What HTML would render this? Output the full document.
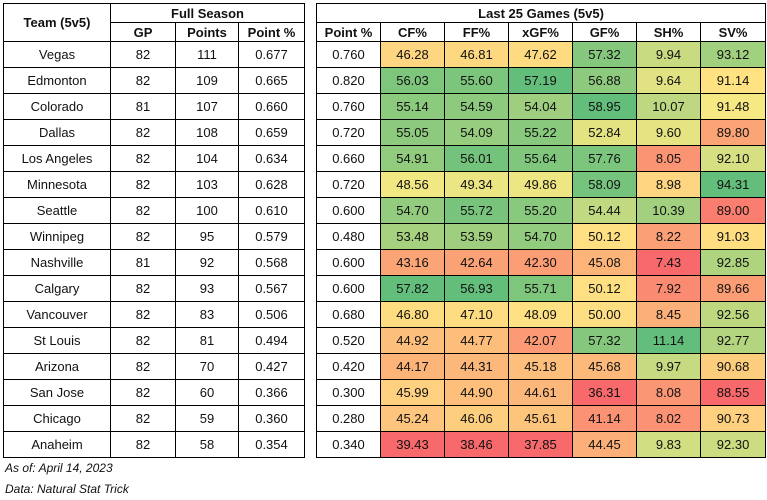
<!DOCTYPE html><html><head><style>
body{margin:0;width:767px;height:500px;background:#fff;position:relative;font-family:"Liberation Sans",Arial,sans-serif;font-size:13px;color:#111}
table{position:absolute;top:3px;border-collapse:collapse;table-layout:fixed}
td{border:1px solid #000;text-align:center;padding:0;height:25px;white-space:nowrap}
tr.h td{font-weight:bold;height:18px}
.note{position:absolute;left:5px;font-style:italic;font-size:12px}
</style></head><body>
<table id="L" style="left:3px;width:301px"><colgroup><col style="width:107px"><col style="width:65px"><col style="width:63px"><col style="width:66px"></colgroup></table>
<table id="R" style="left:316px;width:449px"><colgroup><col style="width:64px"><col style="width:64px"><col style="width:64px"><col style="width:64px"><col style="width:64px"><col style="width:64px"><col style="width:65px"></colgroup></table>
<div class="note" style="top:461px">As of: April 14, 2023</div>
<div class="note" style="top:482px">Data: Natural Stat Trick</div>
<script>
var d=[["Vegas",82,111,"0.677","0.760","46.28","46.81","47.62","57.32","9.94","93.12"],
["Edmonton",82,109,"0.665","0.820","56.03","55.60","57.19","56.88","9.64","91.14"],
["Colorado",81,107,"0.660","0.760","55.14","54.59","54.04","58.95","10.07","91.48"],
["Dallas",82,108,"0.659","0.720","55.05","54.09","55.22","52.84","9.60","89.80"],
["Los Angeles",82,104,"0.634","0.660","54.91","56.01","55.64","57.76","8.05","92.10"],
["Minnesota",82,103,"0.628","0.720","48.56","49.34","49.86","58.09","8.98","94.31"],
["Seattle",82,100,"0.610","0.600","54.70","55.72","55.20","54.44","10.39","89.00"],
["Winnipeg",82,95,"0.579","0.480","53.48","53.59","54.70","50.12","8.22","91.03"],
["Nashville",81,92,"0.568","0.600","43.16","42.64","42.30","45.08","7.43","92.85"],
["Calgary",82,93,"0.567","0.600","57.82","56.93","55.71","50.12","7.92","89.66"],
["Vancouver",82,83,"0.506","0.680","46.80","47.10","48.09","50.00","8.45","92.56"],
["St Louis",82,81,"0.494","0.520","44.92","44.77","42.07","57.32","11.14","92.77"],
["Arizona",82,70,"0.427","0.420","44.17","44.31","45.18","45.68","9.97","90.68"],
["San Jose",82,60,"0.366","0.300","45.99","44.90","44.61","36.31","8.08","88.55"],
["Chicago",82,59,"0.360","0.280","45.24","46.06","45.61","41.14","8.02","90.73"],
["Anaheim",82,58,"0.354","0.340","39.43","38.46","37.85","44.45","9.83","92.30"]];
var L=document.getElementById('L'),R=document.getElementById('R');
var lh='<tr class="h"><td rowspan="2">Team (5v5)</td><td colspan="3">Full Season</td></tr><tr class="h"><td>GP</td><td>Points</td><td>Point %</td></tr>';
var rh='<tr class="h"><td colspan="7">Last 25 Games (5v5)</td></tr><tr class="h"><td>Point %</td><td>CF%</td><td>FF%</td><td>xGF%</td><td>GF%</td><td>SH%</td><td>SV%</td></tr>';
function mix(a,b,t){return 'rgb('+a.map((v,i)=>Math.round(v+(b[i]-v)*t)).join(',')+')'}
var red=[248,105,107],yel=[255,235,132],grn=[99,190,123];
var st=[];for(var c=5;c<11;c++){var v=d.map(r=>+r[c]).sort((a,b)=>a-b);var n=v.length;var md=(v[7]+v[8])/2;st[c]=[v[0],md,v[n-1]];}
function col(c,x){var s=st[c];if(x<=s[1])return mix(red,yel,(x-s[0])/(s[1]-s[0]));return mix(yel,grn,(x-s[1])/(s[2]-s[1]));}
d.forEach(r=>{lh+='<tr><td>'+r[0]+'</td><td>'+r[1]+'</td><td>'+r[2]+'</td><td>'+r[3]+'</td></tr>';
rh+='<tr><td>'+r[4]+'</td>';for(var c=5;c<11;c++)rh+='<td style="background:'+col(c,+r[c])+'">'+r[c]+'</td>';rh+='</tr>';});
L.innerHTML+=lh;R.innerHTML+=rh;
</script>
</body></html>
